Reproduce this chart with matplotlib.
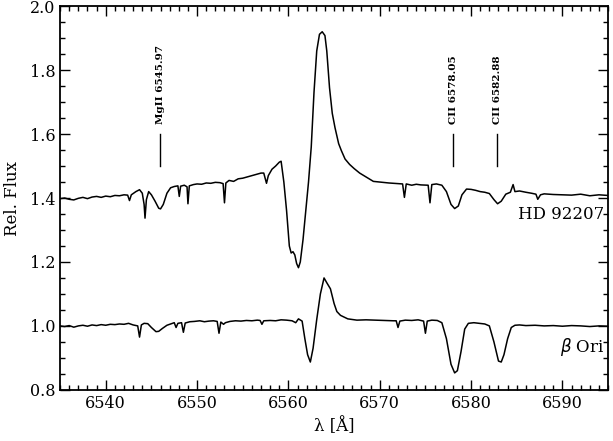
import matplotlib
matplotlib.use("Agg")
import matplotlib.pyplot as plt
from matplotlib.ticker import MultipleLocator

# HD 92207 spectrum (wavelength in A, relative flux)
hd_wave = [6535.0, 6535.5, 6536.0, 6536.5, 6537.0, 6537.5, 6538.0, 6538.5, 6539.0, 6539.5,
           6540.0, 6540.5, 6541.0, 6541.5, 6542.0, 6542.4, 6542.6, 6542.8, 6543.3, 6543.7,
           6544.0, 6544.2, 6544.3, 6544.45, 6544.7, 6545.0, 6545.4, 6545.8, 6546.0, 6546.3,
           6546.7, 6547.1, 6547.5, 6547.9, 6548.05, 6548.2, 6548.6, 6548.9, 6549.0, 6549.15,
           6549.6, 6550.0, 6550.5, 6551.0, 6551.5, 6552.0, 6552.5, 6552.85, 6553.0, 6553.15,
           6553.5, 6554.0, 6554.5, 6555.0, 6555.5, 6556.0, 6556.5, 6557.0, 6557.3, 6557.6,
           6557.8, 6558.2, 6558.6, 6559.0, 6559.2, 6559.5, 6559.8, 6560.1, 6560.3, 6560.5,
           6560.7, 6560.9, 6561.1, 6561.3, 6561.6, 6561.9, 6562.2, 6562.5, 6562.8, 6563.1,
           6563.4, 6563.7, 6564.0, 6564.2, 6564.5, 6564.8, 6565.1, 6565.5, 6565.8, 6566.2,
           6566.7, 6567.2, 6567.8, 6568.5, 6569.3, 6570.0, 6571.0, 6572.0, 6572.5, 6572.7,
           6572.9, 6573.5, 6574.0, 6574.5, 6575.3, 6575.5, 6575.7, 6576.2, 6576.8, 6577.3,
           6577.8, 6578.2, 6578.6, 6579.0, 6579.5, 6580.0, 6580.5, 6581.0, 6581.5, 6582.0,
           6582.5, 6582.9, 6583.3, 6583.8, 6584.3, 6584.6, 6584.8, 6585.3, 6586.0, 6586.6,
           6587.1, 6587.3, 6587.6, 6588.0, 6589.0, 6590.0, 6591.0, 6592.0, 6593.0, 6594.0,
           6595.0]
hd_flux = [1.398, 1.400, 1.396, 1.394, 1.399, 1.402, 1.398, 1.403, 1.405, 1.402,
           1.406, 1.404, 1.408, 1.407, 1.410, 1.409, 1.392, 1.410, 1.420, 1.426,
           1.415, 1.380, 1.337, 1.395, 1.420, 1.410, 1.390, 1.368, 1.366, 1.380,
           1.415, 1.432, 1.436, 1.438, 1.405, 1.437, 1.440, 1.435, 1.382, 1.438,
           1.442, 1.444, 1.443, 1.447, 1.446, 1.449, 1.448, 1.445, 1.385, 1.447,
           1.455, 1.452, 1.460, 1.462, 1.466, 1.470, 1.474, 1.478, 1.478, 1.446,
           1.470, 1.490, 1.500, 1.512, 1.515, 1.450, 1.360, 1.250, 1.228, 1.232,
           1.222, 1.195, 1.182, 1.200, 1.270, 1.360, 1.450, 1.560, 1.730, 1.860,
           1.912, 1.920, 1.908, 1.860, 1.745, 1.665, 1.620, 1.570, 1.548, 1.522,
           1.505, 1.492, 1.478, 1.466, 1.452, 1.450, 1.447, 1.445, 1.444, 1.402,
           1.444, 1.440, 1.443, 1.441, 1.440, 1.385, 1.442, 1.444, 1.440, 1.420,
           1.380, 1.367, 1.375, 1.410, 1.428, 1.427, 1.424, 1.420, 1.418, 1.414,
           1.395, 1.382, 1.390, 1.412, 1.418, 1.442, 1.420, 1.422, 1.418, 1.415,
           1.412, 1.396, 1.410, 1.413, 1.411, 1.410, 1.409, 1.412, 1.407, 1.410,
           1.408]

# beta Ori spectrum
bo_wave = [6535.0, 6535.5, 6536.0, 6536.5, 6537.0, 6537.5, 6538.0, 6538.5, 6539.0, 6539.5,
           6540.0, 6540.5, 6541.0, 6541.5, 6542.0, 6542.5, 6543.0, 6543.5, 6543.7, 6543.9,
           6544.2, 6544.6, 6545.0, 6545.5, 6545.8, 6546.2, 6546.7, 6547.2, 6547.5, 6547.7,
           6547.9, 6548.3, 6548.5, 6548.7, 6549.2, 6549.7, 6550.3, 6550.8, 6551.3, 6551.8,
           6552.2, 6552.4, 6552.6, 6552.9, 6553.1, 6553.6, 6554.2, 6554.8, 6555.4, 6556.0,
           6556.6, 6556.9, 6557.1, 6557.3, 6558.0, 6558.6, 6559.2, 6559.8, 6560.4, 6560.8,
           6561.1, 6561.5, 6561.8, 6562.1, 6562.4, 6562.7, 6563.1, 6563.5, 6563.9, 6564.2,
           6564.6, 6565.0, 6565.3, 6565.7, 6566.5, 6567.5, 6568.5, 6569.5, 6570.5, 6571.5,
           6571.8, 6572.0, 6572.2, 6572.8, 6573.5, 6574.2, 6574.8, 6575.0, 6575.2, 6575.7,
           6576.3, 6576.8, 6577.3, 6577.8, 6578.2, 6578.5, 6578.9, 6579.3, 6579.7, 6580.3,
           6580.9, 6581.5, 6582.0, 6582.5, 6583.0, 6583.3, 6583.6, 6584.0, 6584.4, 6584.8,
           6585.3, 6586.0, 6587.0, 6588.0, 6589.0, 6590.0, 6591.0, 6592.0, 6593.0, 6594.0,
           6595.0]
bo_flux = [1.000, 0.998, 1.001, 0.996, 1.000, 1.002, 0.999, 1.003, 1.001, 1.004,
           1.002, 1.005, 1.004, 1.006, 1.005, 1.008, 1.003, 1.000, 0.965, 1.003,
           1.008, 1.007, 0.995, 0.982, 0.983, 0.992, 1.002, 1.007, 1.010, 0.995,
           1.008, 1.010, 0.980, 1.009, 1.013, 1.014, 1.016, 1.013, 1.015, 1.016,
           1.014, 0.977, 1.012, 1.005, 1.010, 1.014, 1.016, 1.015, 1.017, 1.016,
           1.018, 1.017, 1.005, 1.016, 1.017, 1.016, 1.019, 1.018, 1.016, 1.010,
           1.022, 1.015, 0.960, 0.910, 0.887, 0.930, 1.020, 1.100, 1.150, 1.135,
           1.116, 1.070, 1.045, 1.033, 1.022, 1.018, 1.019, 1.018, 1.017, 1.016,
           1.016, 0.995, 1.015, 1.018, 1.017, 1.019, 1.015, 0.977, 1.015, 1.018,
           1.017, 1.010, 0.960, 0.880, 0.853, 0.860, 0.920, 0.990, 1.008, 1.010,
           1.008, 1.006, 1.000, 0.950, 0.890, 0.887, 0.910, 0.960, 0.995, 1.002,
           1.003, 1.001, 1.002, 1.000, 1.001, 0.999, 1.001, 1.000, 0.998, 1.000,
           0.999]

# line identifications
line_labels = ["MgII 6545.97", "CII 6578.05", "CII 6582.88"]
line_waves = [6545.97, 6578.05, 6582.88]

plt.rcParams['font.family'] = ['DejaVu Serif']

fig = plt.figure(figsize=(6.13, 4.41), dpi=100)
ax = fig.add_axes([0.098, 0.116, 0.894, 0.870])

ax.plot(hd_wave, hd_flux, color='black', lw=1.1)
ax.plot(bo_wave, bo_flux, color='black', lw=1.1)

for lab, w in zip(line_labels, line_waves):
    ax.plot([w, w], [1.50, 1.60], color='black', lw=1.0)
    ax.text(w, 1.63, lab, rotation=90, ha='center', va='bottom',
            fontsize=7.5, fontweight='bold')

ax.text(6594.6, 1.349, "HD 92207", ha='right', va='center', fontsize=12)
ax.text(6594.6, 0.933, r"$\beta$ Ori", ha='right', va='center', fontsize=12)

ax.set_xlim(6535, 6595)
ax.set_ylim(0.8, 2.0)
ax.xaxis.set_major_locator(MultipleLocator(10))
ax.xaxis.set_minor_locator(MultipleLocator(1))
ax.yaxis.set_major_locator(MultipleLocator(0.2))
ax.yaxis.set_minor_locator(MultipleLocator(0.05))
ax.yaxis.set_major_formatter(plt.FormatStrFormatter('%.1f'))
ax.tick_params(which='both', direction='in', top=True, right=True, labelsize=11.5)
ax.tick_params(which='major', length=7, width=1.0)
ax.tick_params(which='minor', length=3.5, width=1.0)
for s in ax.spines.values():
    s.set_linewidth(1.3)

ax.set_xlabel("λ [Å]", fontsize=12)
ax.set_ylabel("Rel. Flux", fontsize=12, labelpad=6)

fig.savefig("out.png", dpi=100)
